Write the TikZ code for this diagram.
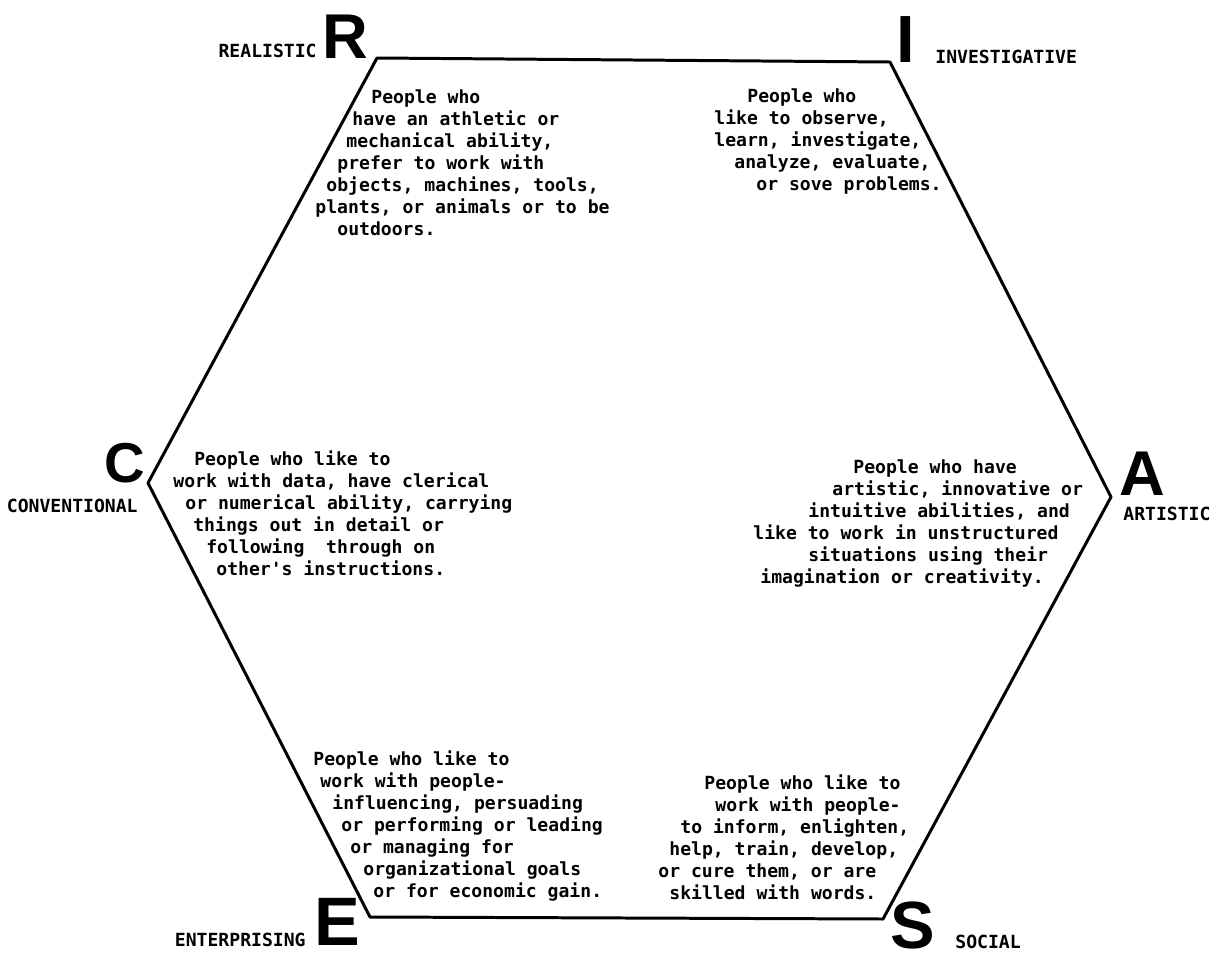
\documentclass[tikz,border=0pt]{standalone}
\usepackage{fontspec}
\newfontfamily\typefont{DejaVu Sans Mono}
\newfontfamily\letterfont{Liberation Sans}
\usetikzlibrary{positioning}

\begin{document}
\begin{tikzpicture}[x=0.2mm, y=-0.2mm,
      desc/.style={font=\typefont\bfseries\fontsize{10.3pt}{12pt}\selectfont,
                   anchor=base west, inner sep=0pt},
      tag/.style={font=\typefont\bfseries\fontsize{10.3pt}{12pt}\selectfont,
                  inner sep=0pt},
      letter/.style={font=\letterfont\bfseries\fontsize{#1}{#1}\selectfont,
                     anchor=base, inner sep=0pt},
      letter/.default=36pt,
      rim/.style={line width=1.7pt, line join=round}
  ]
    \useasboundingbox (0,0) rectangle (1215,955);

    % hexagon corners
    \coordinate (cR) at (377,58);
    \coordinate (cI) at (890,62);
    \coordinate (cA) at (1111,497);
    \coordinate (cS) at (883,919);
    \coordinate (cE) at (370,917);
    \coordinate (cC) at (148,483);
    \draw[rim] (cR) -- (cI) -- (cA) -- (cS) -- (cE) -- (cC) -- cycle;

    % big letters
    \node[letter=36pt] (R) at (345,58) {R};
    \node[letter=38pt] (I) at (906,62) {I};
    \node[letter=32pt] (C) at (125,482) {C};
    \node[letter=36pt] (A) at (1142,495) {A};
    \node[letter=39pt] (E) at (337,945) {E};
    \node[letter=38pt] (S) at (913,948) {S};

    % type names
    \node[tag, anchor=base east] (realistic) at (317,57) {REALISTIC};
    \node[tag, anchor=base west] (investigative) at (935,63) {INVESTIGATIVE};
    \node[tag, anchor=base east] (conventional) at (138,512) {CONVENTIONAL};
    \node[tag, anchor=base west] (artistic) at (1123,520) {ARTISTIC};
    \node[tag, anchor=base east] (enterprising) at (306,946) {ENTERPRISING};
    \node[tag, anchor=base west] (social) at (955,948) {SOCIAL};

    % descriptions, one line at a time
    \foreach \x/\t [count=\k] in {371/{People who}, 352/{have an athletic or},
        346/{mechanical ability,}, 337/{prefer to work with},
        326/{objects, machines, tools,}, 315/{plants, or animals or to be},
        337/{outdoors.}}
      \node[desc] (r\k) at (\x,{103+22*(\k-1)}) {\t};

    \foreach \x/\t [count=\k] in {747/{People who}, 714/{like to observe,},
        714/{learn, investigate,}, 734/{analyze, evaluate,},
        756/{or sove problems.}}
      \node[desc] (i\k) at (\x,{102+22*(\k-1)}) {\t};

    \foreach \x/\t [count=\k] in {194/{People who like to},
        173/{work with data, have clerical},
        185/{or numerical ability, carrying}, 193/{things out in detail or},
        206/{following\ \ through on}, 216/{other's instructions.}}
      \node[desc] (c\k) at (\x,{465+22*(\k-1)}) {\t};

    \foreach \x/\t [count=\k] in {853/{People who have},
        832/{artistic, innovative or}, 808/{intuitive abilities, and},
        753/{like to work in unstructured}, 808/{situations using their},
        760/{imagination or creativity.}}
      \node[desc] (a\k) at (\x,{473+22*(\k-1)}) {\t};

    \foreach \x/\t [count=\k] in {313/{People who like to},
        320/{work with people-}, 332/{influencing, persuading},
        341/{or performing or leading}, 350/{or managing for},
        363/{organizational goals}, 373/{or for economic gain.}}
      \node[desc] (e\k) at (\x,{765+22*(\k-1)}) {\t};

    \foreach \x/\t [count=\k] in {704/{People who like to},
        715/{work with people-}, 680/{to inform, enlighten,},
        669/{help, train, develop,}, 658/{or cure them, or are},
        669/{skilled with words.}}
      \node[desc] (s\k) at (\x,{789+22*(\k-1)}) {\t};
  \end{tikzpicture}
\end{document}
